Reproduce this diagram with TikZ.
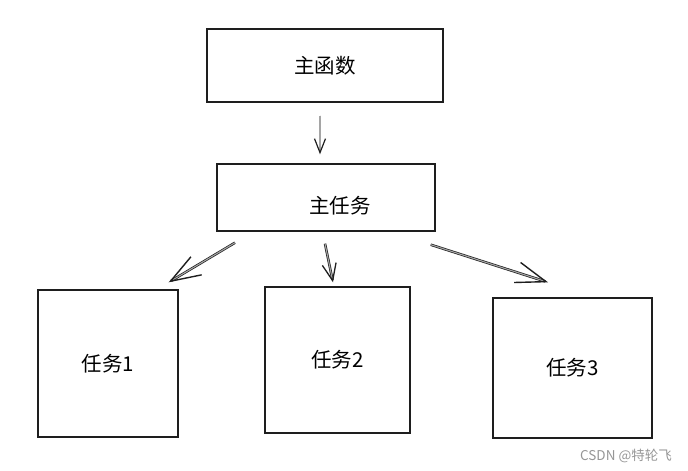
\documentclass[tikz,border=0pt]{standalone}
\usepackage{fontspec}
\usepackage{xcolor}
\newfontfamily\cjk{Noto Sans CJK SC}
\usetikzlibrary{arrows.meta}

\definecolor{pen}{RGB}{30,30,30}
\definecolor{mark}{RGB}{150,150,150}

\tikzset{
  box/.style={draw=pen, line width=1.4pt, font=\cjk\fontsize{20.5}{20.5}\selectfont},
  flow/.style={draw=pen, line width=0.7pt, double=pen!40, double distance=1.1pt,
    -{Straight Barb[length=30pt, width=21pt, line width=1.4pt]}},
}

\begin{document}
\begin{tikzpicture}[x=1pt, y=-1pt]
  \useasboundingbox (0,0) rectangle (688,471);

  \node[box, minimum width=236pt, minimum height=73pt] (main) at (325,65.5) {主函数};
  \node[box, minimum width=218pt, minimum height=67pt,
        label={[xshift=14pt, yshift=-8pt, font=\cjk\fontsize{20.5}{20.5}\selectfont]center:主任务}] (task) at (326,197.5) {};
  \node[box, minimum width=140pt, minimum height=147pt] (t1) at (108,363.5) {任务1};
  \node[box, minimum width=145pt, minimum height=146pt] (t2) at (337.5,360) {任务2};
  \node[box, minimum width=159pt, minimum height=140pt] (t3) at (572.5,368) {任务3};

  \draw[flow, -{Straight Barb[length=14pt, width=11pt, line width=1.2pt]}]
    ([xshift=-5pt, yshift=-13pt]main.south) -- ([xshift=-6pt, yshift=9pt]task.north);
  \draw[flow] ([xshift=-91pt, yshift=-11pt]task.south) -- ([xshift=-10pt, yshift=7pt]t1.north east);
  \draw[flow, -{Straight Barb[length=17pt, width=14pt, line width=1.3pt]}]
    ([xshift=-1pt, yshift=-12pt]task.south) -- ([xshift=-4.5pt, yshift=4pt]t2.north);
  \draw[flow] ([xshift=-5pt, yshift=-13pt]task.south east) -- ([xshift=-24.5pt, yshift=15pt]t3.north);

  \node[anchor=east, text=mark, inner sep=0pt, font=\cjk\fontsize{13.5}{13.5}\selectfont] (credit) at (672,456) {CSDN @特轮飞};
\end{tikzpicture}
\end{document}
